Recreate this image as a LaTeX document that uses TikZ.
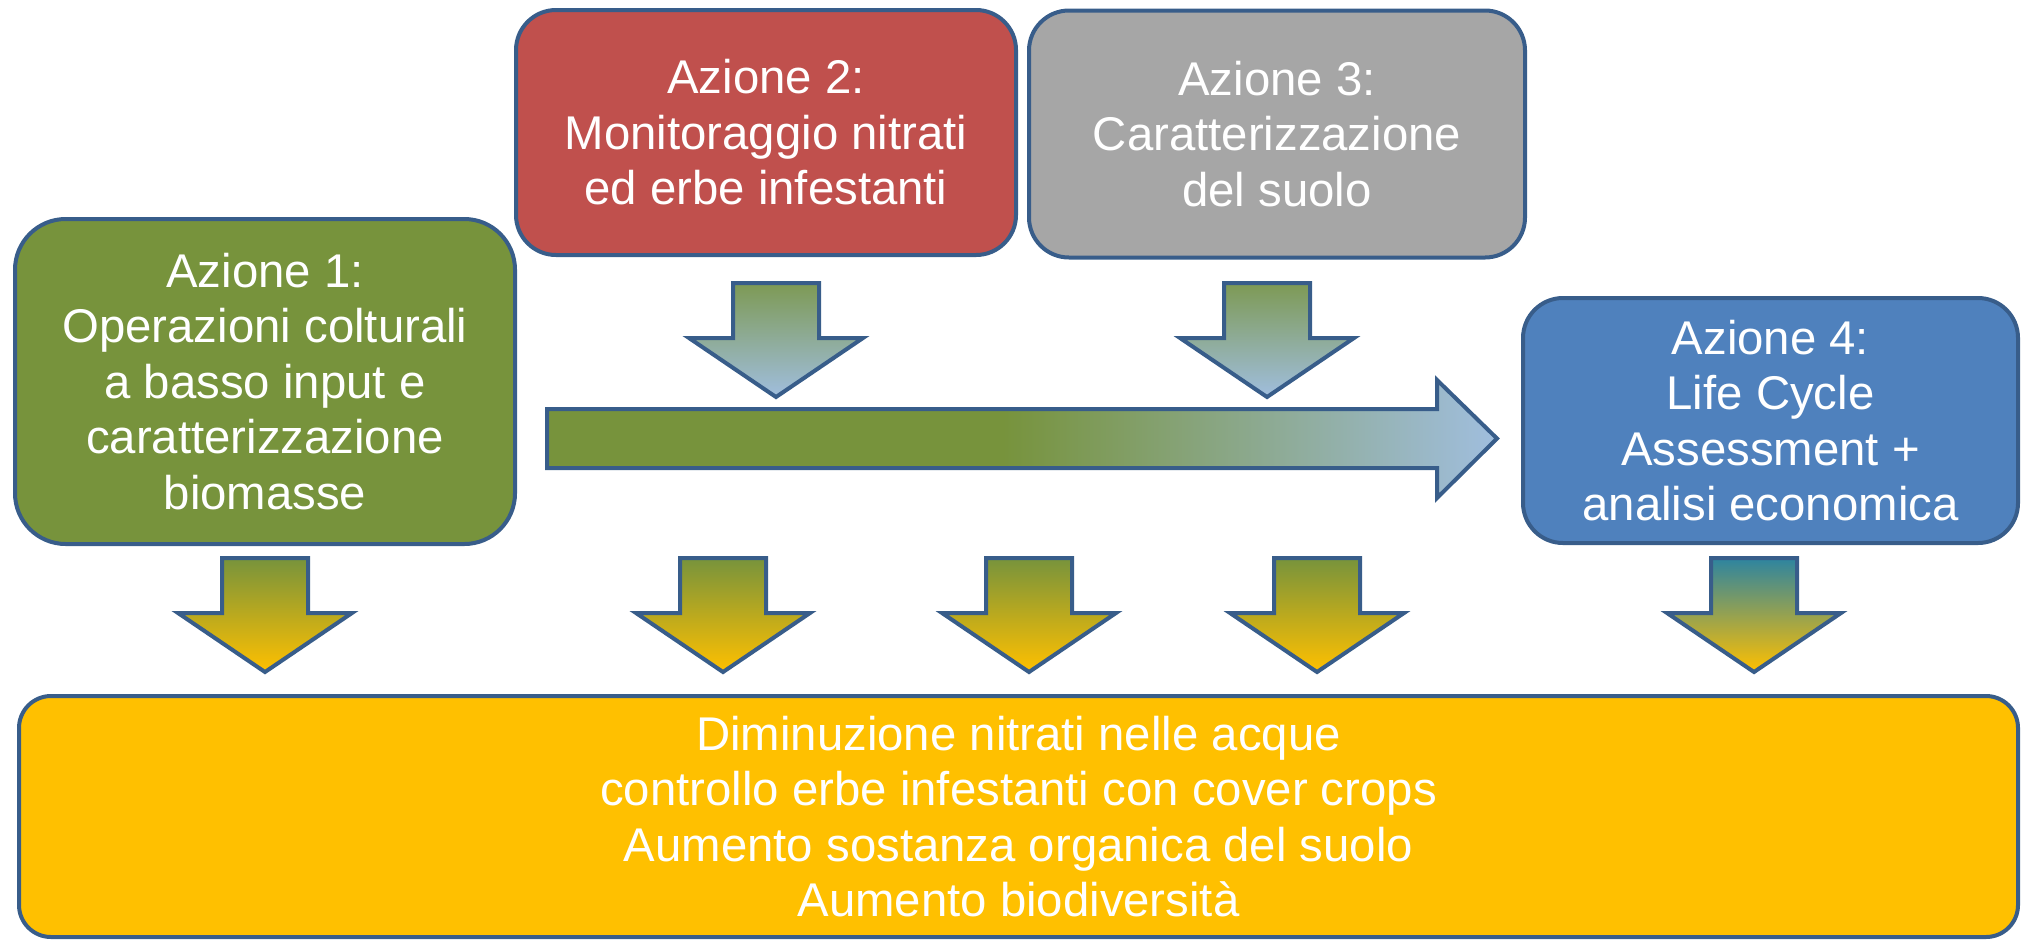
\documentclass[tikz,border=0pt]{standalone}
\usepackage{fontspec}
\setmainfont{Liberation Sans}
\usepackage{xcolor}

\definecolor{azborder}{RGB}{56,93,138}
\definecolor{azgreen}{RGB}{119,147,60}
\definecolor{azred}{RGB}{192,80,77}
\definecolor{azgrey}{RGB}{166,166,166}
\definecolor{azblue}{RGB}{79,129,189}
\definecolor{azyellow}{RGB}{255,192,0}
\definecolor{azlblue}{RGB}{160,190,222}
\definecolor{azteal}{RGB}{45,132,160}

\pgfdeclarehorizontalshading{lungafreccia}{100bp}{color(0bp)=(azgreen); color(49bp)=(azgreen); color(75bp)=(azlblue); color(100bp)=(azlblue)}

\tikzset{
  azbox/.style={draw=azborder, line width=3pt, rounded corners=30pt, text=white, align=center, inner sep=0pt, font=\fontsize{35.5}{41.6}\selectfont},
  freccia/.style={draw=azborder, line width=3pt, line join=miter},
  giuverde/.style={freccia, top color=azgreen, bottom color=azyellow},
  giublu/.style={freccia, top color=azgreen!85!azlblue, bottom color=azlblue}
}

\begin{document}
\begin{tikzpicture}[x=0.75pt,y=0.75pt,yscale=-1,xscale=1]
\useasboundingbox (0,0) rectangle (2022,940);

%Rounded Rect: Azione 1
\node [azbox, rounded corners=38pt, fill=azgreen, minimum width=375pt, minimum height=243.75pt] (azione1) at (265,381.5) {Azione 1:\\Operazioni colturali\\a basso input e\\caratterizzazione\\biomasse};
%Rounded Rect: Azione 2
\node [azbox, fill=azred, minimum width=375pt, minimum height=183.75pt] (azione2) at (766,132.5) {Azione 2:\\Monitoraggio nitrati\\ed erbe infestanti};
%Rounded Rect: Azione 3
\node [azbox, fill=azgrey, minimum width=372pt, minimum height=185.25pt] (azione3) at (1277,134) {Azione 3:\\Caratterizzazione\\del suolo};
%Rounded Rect: Azione 4
\node [azbox, fill=azblue, minimum width=371.25pt, minimum height=183.75pt] (azione4) at (1770.5,420.5) {Azione 4:\\Life Cycle\\Assessment +\\analisi economica};
%Rounded Rect: risultati
\node [azbox, rounded corners=24pt, fill=azyellow, minimum width=1499.25pt, minimum height=180.75pt] (risultati) at (1018.5,816.5) {Diminuzione nitrati nelle acque\\controllo erbe infestanti con cover crops\\Aumento sostanza organica del suolo\\Aumento biodiversità};

%Shape: Right Arrow
\draw [freccia, shading=lungafreccia] (547,409) -- (1437,409) -- (1437,380) -- (1497,438.5) -- (1437,498) -- (1437,468) -- (547,468) -- cycle ;

%Shape: Down Arrow (Azione 2)
\draw [giublu] (733,283) -- (819,283) -- (819,338) -- (863,338) -- (776,397) -- (689,338) -- (733,338) -- cycle ;
%Shape: Down Arrow (Azione 3)
\draw [giublu] (1224,283) -- (1310,283) -- (1310,338) -- (1354,338) -- (1267,397) -- (1180,338) -- (1224,338) -- cycle ;

%Shape: Down Arrow
\draw [giuverde] (222,558) -- (308,558) -- (308,613) -- (352,613) -- (265,672) -- (178,613) -- (222,613) -- cycle ;
%Shape: Down Arrow
\draw [giuverde] (680,558) -- (766,558) -- (766,613) -- (810,613) -- (723,672) -- (636,613) -- (680,613) -- cycle ;
%Shape: Down Arrow
\draw [giuverde] (986,558) -- (1072,558) -- (1072,613) -- (1116,613) -- (1029,672) -- (942,613) -- (986,613) -- cycle ;
%Shape: Down Arrow
\draw [giuverde] (1274,558) -- (1360,558) -- (1360,613) -- (1404,613) -- (1317,672) -- (1230,613) -- (1274,613) -- cycle ;
%Shape: Down Arrow (Azione 4)
\draw [giuverde, top color=azteal] (1711,558) -- (1797,558) -- (1797,613) -- (1841,613) -- (1754,672) -- (1667,613) -- (1711,613) -- cycle ;

\end{tikzpicture}
\end{document}
